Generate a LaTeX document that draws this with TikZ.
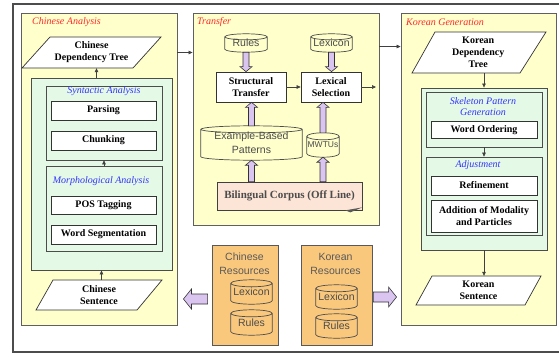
\documentclass[tikz,border=0pt]{standalone}
\usepackage{fontspec}
\setmainfont{Liberation Serif}
\setsansfont{Liberation Sans}
\usetikzlibrary{arrows.meta,calc}

\definecolor{ylw}{RGB}{255,255,204}
\definecolor{grn}{RGB}{228,250,230}
\definecolor{org}{RGB}{250,200,125}
\definecolor{lav}{RGB}{218,196,240}
\definecolor{peach}{RGB}{252,228,214}
\definecolor{lblred}{RGB}{255,40,40}
\definecolor{lblblue}{RGB}{50,50,255}
\definecolor{cylgray}{RGB}{75,75,75}

\tikzset{
 sect/.style={draw=gray!75!black, fill=ylw, line width=0.9pt, inner sep=0},
 greenbox/.style={draw=gray!60!black, fill=grn, line width=0.9pt, inner sep=0},
 innergreen/.style={draw=gray!60!black, fill=grn, line width=0.7pt, inner sep=0},
 wbox/.style={draw=black!80, fill=white, line width=0.7pt, inner sep=1pt, font=\fontsize{10}{12}\selectfont\bfseries, align=center},
 sectlab/.style={anchor=west, inner sep=0, text=lblred, font=\fontsize{10}{12}\selectfont\itshape},
 sublab/.style={inner sep=0, text=lblblue, font=\fontsize{10}{11}\selectfont\itshape, align=center},
 cyl/.style={inner sep=0, text=cylgray, font=\fontsize{10.5}{14}\selectfont\sffamily, align=center},
 cylline/.style={draw=black!70, line width=0.7pt},
 arr/.style={draw=black!75, -{Triangle[length=4pt,width=3.6pt]}, line width=0.6pt},
 blk/.style={draw=black!80, fill=lav, line width=0.6pt, line join=miter},
 para/.style={draw=black!80, fill=white, line width=0.7pt},
 paratext/.style={inner sep=0, font=\fontsize{10}{12}\selectfont\bfseries, align=center},
 resbox/.style={draw=gray!70!black, fill=org, line width=0.8pt, inner sep=0},
 restext/.style={inner sep=0, text=black!65, font=\fontsize{10.5}{14}\selectfont\sffamily, align=center},
 corpusbox/.style={draw=black!75, fill=peach, line width=0.7pt, inner sep=0, text=black!70, font=\fontsize{11}{13}\selectfont\bfseries},
}

\newcommand\drawcyl[2][3.5pt]{%
 \draw[cylline] let \p1=(#2.north west), \p2=(#2.south east), \n1={(\x2-\x1)/2} in
 (\x1,\y1) -- (\x1,\y2) arc[start angle=180, end angle=360, x radius=\n1, y radius=#1] -- (\x2,\y1) arc[start angle=0, end angle=180, x radius=\n1, y radius=#1] -- cycle
 (\x1,\y1) arc[start angle=180, end angle=360, x radius=\n1, y radius=#1];}
\newcommand\blkup[2]{\draw[blk] let \p1=(#1), \p2=(#2) in (\x1-3pt,\y1) -- (\x1-3pt,\y2-5pt) -- (\x1-6pt,\y2-5pt) -- (\x1,\y2) -- (\x1+6pt,\y2-5pt) -- (\x1+3pt,\y2-5pt) -- (\x1+3pt,\y1) -- cycle;}
\newcommand\blkdown[2]{\draw[blk] let \p1=(#1), \p2=(#2) in (\x1-3pt,\y1) -- (\x1-3pt,\y2+5pt) -- (\x1-6pt,\y2+5pt) -- (\x1,\y2) -- (\x1+6pt,\y2+5pt) -- (\x1+3pt,\y2+5pt) -- (\x1+3pt,\y1) -- cycle;}
\newcommand\blkleft[2]{\draw[blk] let \p1=(#1), \p2=(#2) in (\x1,\y1+5pt) -- (\x2+8pt,\y1+5pt) -- (\x2+8pt,\y1+10pt) -- (\x2,\y1) -- (\x2+8pt,\y1-10pt) -- (\x2+8pt,\y1-5pt) -- (\x1,\y1-5pt) -- cycle;}
\newcommand\blkright[2]{\draw[blk] let \p1=(#1), \p2=(#2) in (\x1,\y1+5pt) -- (\x2-8pt,\y1+5pt) -- (\x2-8pt,\y1+10pt) -- (\x2,\y1) -- (\x2-8pt,\y1-10pt) -- (\x2-8pt,\y1-5pt) -- (\x1,\y1-5pt) -- cycle;}

\begin{document}
\begin{tikzpicture}[x=1pt,y=-1pt]
\fill[white] (0,0) rectangle (559,356);
\useasboundingbox (0,0) rectangle (559,356);
% outer frame
\draw[line width=2pt, black!70] (570,4) -- (13,4) -- (13,352) -- (570,352);

% ===== Chinese Analysis =====
\node[sect, minimum width=156, minimum height=312] (ca) at (99,169) {};
\node[sectlab] (calab) at (32,22) {Chinese Analysis};
\node[greenbox, minimum width=141, minimum height=192] (cgreen) at (101.5,174) {};
\node[innergreen, minimum width=116, minimum height=74] (synt) at (104,123) {};
\node[sublab] (syntlab) at (104,91) {Syntactic Analysis};
\node[wbox, minimum width=105, minimum height=19] (pars) at (103.5,110.5) {Parsing};
\node[wbox, minimum width=105, minimum height=19] (chunk) at (103.5,140.5) {Chunking};
\node[innergreen, minimum width=116, minimum height=85] (morph) at (104,208.5) {};
\node[sublab] (morphlab) at (101,181) {Morphological Analysis};
\node[wbox, minimum width=105, minimum height=18] (pos) at (103.5,205) {POS Tagging};
\node[wbox, minimum width=105, minimum height=19] (wseg) at (103.5,234.5) {Word Segmentation};
\draw[para] (50,37) -- (161,37) -- (133,68) -- (22,68) -- cycle;
\node[paratext, minimum width=111, minimum height=31] (cdt) at (91.5,52.5) {Chinese\\Dependency Tree};
\draw[para] (53,280) -- (162,280) -- (137,310) -- (36,310) -- cycle;
\node[paratext, minimum width=105, minimum height=30] (cs) at (99,295) {Chinese\\Sentence};
\coordinate (cgtop) at ([xshift=-5pt]cgreen.north);
\draw[arr] (cgtop) -- (cgtop |- cdt.south);
\draw[arr] (morph.north) -- (synt.south);
\draw[arr] (cgreen.south |- cs.north) -- (cgreen.south);

% ===== Transfer =====
\node[sect, minimum width=186, minimum height=212] (tr) at (286,119) {};
\node[sectlab] (trlab) at (197,22) {Transfer};
\node[cyl, minimum width=42, minimum height=12] (rules) at (246,43) {Rules};
\drawcyl[3pt]{rules}
\node[cyl, minimum width=41, minimum height=12] (lexc) at (331.5,43) {Lexicon};
\drawcyl[3pt]{lexc}
\node[wbox, minimum width=70, minimum height=30] (st) at (251,87) {Structural\\Transfer};
\node[wbox, minimum width=60, minimum height=30] (lex) at (331,87) {Lexical\\Selection};
\node[cyl, minimum width=101, minimum height=27] (ex) at (251.5,143) {Example-Based\\Patterns};
\drawcyl[3.5pt]{ex}
\node[cyl, minimum width=32, minimum height=17, font=\fontsize{8.5}{10}\selectfont\sffamily] (mw) at (323,145) {MWTUs};
\drawcyl[3.5pt]{mw}
\node[corpusbox, minimum width=145, minimum height=28] (corpus) at (289.5,196) {Bilingual Corpus (Off Line)};
\fill[black!65] ([xshift=-17pt]corpus.south east) .. controls ([xshift=-8pt,yshift=1pt]corpus.south east) .. ([yshift=3pt]corpus.south east) -- ([xshift=-12pt,yshift=-2pt]corpus.south east) -- cycle;
\coordinate (lexout) at (376,87);
\draw[arr] (st.east) -- (lex.west);
\draw[arr] (lex.east) -- (lexout);
\blkdown{[yshift=-3pt]rules.south}{st.north}
\blkdown{[yshift=-3pt]lexc.south}{lex.north}
\blkup{[yshift=3.5pt]ex.north}{st.south}
\blkup{[yshift=3.5pt]mw.north}{mw.north |- lex.south}
\blkup{corpus.north -| ex}{[yshift=-3.5pt]ex.south}
\blkup{corpus.north -| mw}{[yshift=-3.5pt]mw.south}

% ===== Korean Generation =====
\node[sect, minimum width=155, minimum height=312] (kg) at (478.5,169) {};
\node[sectlab] (kglab) at (406,22) {Korean Generation};
\draw[para] (435,32) -- (546,32) -- (520,73) -- (412,73) -- cycle;
\node[paratext, minimum width=109.5, minimum height=41] (kdt) at (478.25,52.5) {Korean\\Dependency\\Tree};
\node[greenbox, minimum width=126, minimum height=162] (kgreen) at (484,169) {};
\node[innergreen, minimum width=116, minimum height=55] (skel) at (484,119.5) {};
\node[sublab] (skellab) at (483,106.5) {Skeleton Pattern\\Generation};
\node[wbox, minimum width=106, minimum height=16.5] (word) at (484,130) {Word Ordering};
\node[innergreen, minimum width=116, minimum height=78] (adj) at (484,196) {};
\node[sublab] (adjlab) at (478,165.5) {Adjustment};
\node[wbox, minimum width=106, minimum height=19] (refi) at (484,185.5) {Refinement};
\node[wbox, minimum width=106, minimum height=32] (addm) at (484,216) {Addition of Modality\\and Particles};
\draw[para] (432,276) -- (541,276) -- (525,305) -- (416,305) -- cycle;
\node[paratext, minimum width=109, minimum height=29] (ks) at (478.5,290.5) {Korean\\Sentence};
\draw[arr] (kgreen.north |- kdt.south) -- (kgreen.north);
\draw[arr] (skel.south) -- (adj.north);
\draw[arr] (kgreen.south) -- (kgreen.south |- ks.north);

% ===== section connectors =====
\draw[arr] (cdt -| ca.east) -- (cdt -| tr.west);
\coordinate (tro) at ([yshift=-34pt]tr.north east);
\draw[arr] (tro) -- (tro -| kg.west);

% ===== Resources =====
\node[resbox, minimum width=66, minimum height=100] (cres) at (245,295) {};
\node[restext] (crlab) at (244.5,264) {Chinese\\Resources};
\node[cyl, minimum width=41, minimum height=17] (clex) at (251.5,292) {Lexicon};
\drawcyl[3.5pt]{clex}
\node[cyl, minimum width=41, minimum height=18] (crul) at (251.5,322.5) {Rules};
\drawcyl[3.5pt]{crul}
\node[resbox, minimum width=71, minimum height=100] (kres) at (336.5,295) {};
\node[restext] (krlab) at (335.5,264) {Korean\\Resources};
\node[cyl, minimum width=41, minimum height=17] (klex) at (336.5,297) {Lexicon};
\drawcyl[3.5pt]{klex}
\node[cyl, minimum width=41, minimum height=17] (krul) at (336.5,326) {Rules};
\drawcyl[3.5pt]{krul}
\blkleft{[xshift=-4pt,yshift=-4pt]cres.west}{[xshift=6pt]ca.east}
\blkright{[xshift=1pt,yshift=-2pt]kres.east}{[xshift=-4pt]kg.west}
\end{tikzpicture}
\end{document}
